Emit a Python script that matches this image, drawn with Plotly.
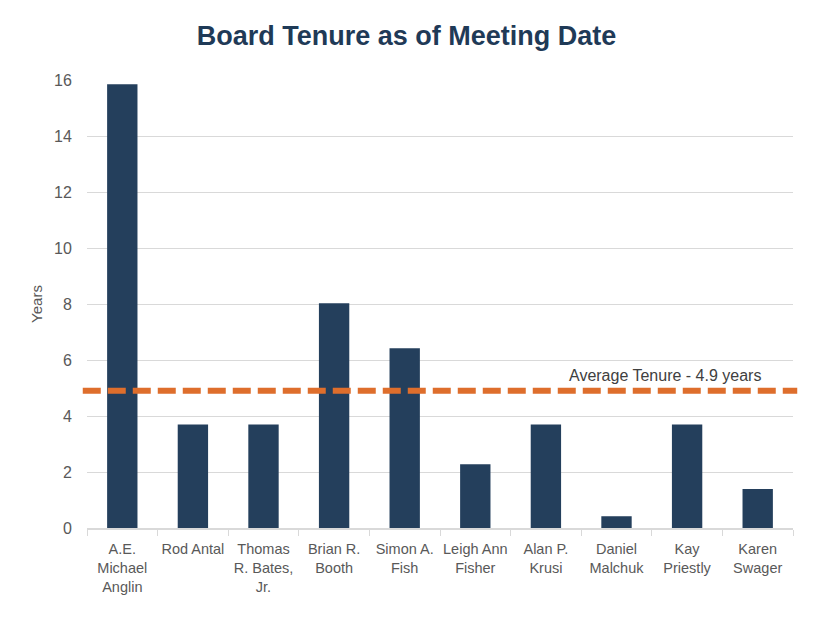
import plotly.graph_objects as go

directors = ["A.E.<br>Michael<br>Anglin", "Rod Antal", "Thomas<br>R. Bates,<br>Jr.", "Brian R.<br>Booth",
             "Simon A.<br>Fish", "Leigh Ann<br>Fisher", "Alan P.<br>Krusi", "Daniel<br>Malchuk",
             "Kay<br>Priestly", "Karen<br>Swager"]
tenure_years = [15.85, 3.7, 3.7, 8.03, 6.42, 2.28, 3.7, 0.42, 3.7, 1.39]
average_tenure = 4.9
y_ticks = [0, 2, 4, 6, 8, 10, 12, 14, 16]

FONT = "Liberation Sans Narrow, Arial Narrow, Liberation Sans, Arial, sans-serif"

fig = go.Figure()
fig.add_trace(go.Bar(x=directors, y=tenure_years, marker=dict(color="#243F5C", line=dict(width=0)),
                     hoverinfo="x+y"))

fig.add_shape(type="line", xref="paper", yref="y", x0=-0.006, x1=1.006,
              y0=average_tenure, y1=average_tenure,
              line=dict(color="#DE6E2C", width=6, dash="18px,7px"))
fig.add_annotation(xref="paper", yref="y", x=0.958, y=average_tenure, yshift=15,
                   text="Average Tenure - " + str(average_tenure) + " years", showarrow=False,
                   xanchor="right", font=dict(family=FONT, size=16, color="#404040"))

fig.update_layout(
    width=815, height=617,
    margin=dict(l=79, r=30, t=72, b=97),
    paper_bgcolor="white", plot_bgcolor="white",
    bargap=0.57,
    showlegend=False,
    title=dict(text="<b>Board Tenure as of Meeting Date</b>", x=0.489, xanchor="center",
               y=0.956, yanchor="middle",
               font=dict(family=FONT, size=27, color="#1F3A57")),
    font=dict(family=FONT, size=15, color="#595959"),
)
fig.update_xaxes(showline=True, linecolor="#D9D9D9", linewidth=1.5, ticks="outside",
                 tickson="boundaries", ticklen=6, tickcolor="#D9D9D9", tickangle=0, automargin=False,
                 ticklabelstandoff=7,
                 tickfont=dict(family=FONT, size=14.5, color="#595959"), showgrid=False)
fig.update_yaxes(range=[0, 16], tickvals=y_ticks, showgrid=True, gridcolor="#D9D9D9", gridwidth=1.2,
                 zeroline=False, ticks="outside", ticklen=0, tickcolor="#D9D9D9", automargin=False,
                 ticklabelstandoff=11,
                 title=dict(text="Years", font=dict(family=FONT, size=15, color="#595959"), standoff=7),
                 tickfont=dict(family=FONT, size=16, color="#595959"))

fig.write_html("out.html")
